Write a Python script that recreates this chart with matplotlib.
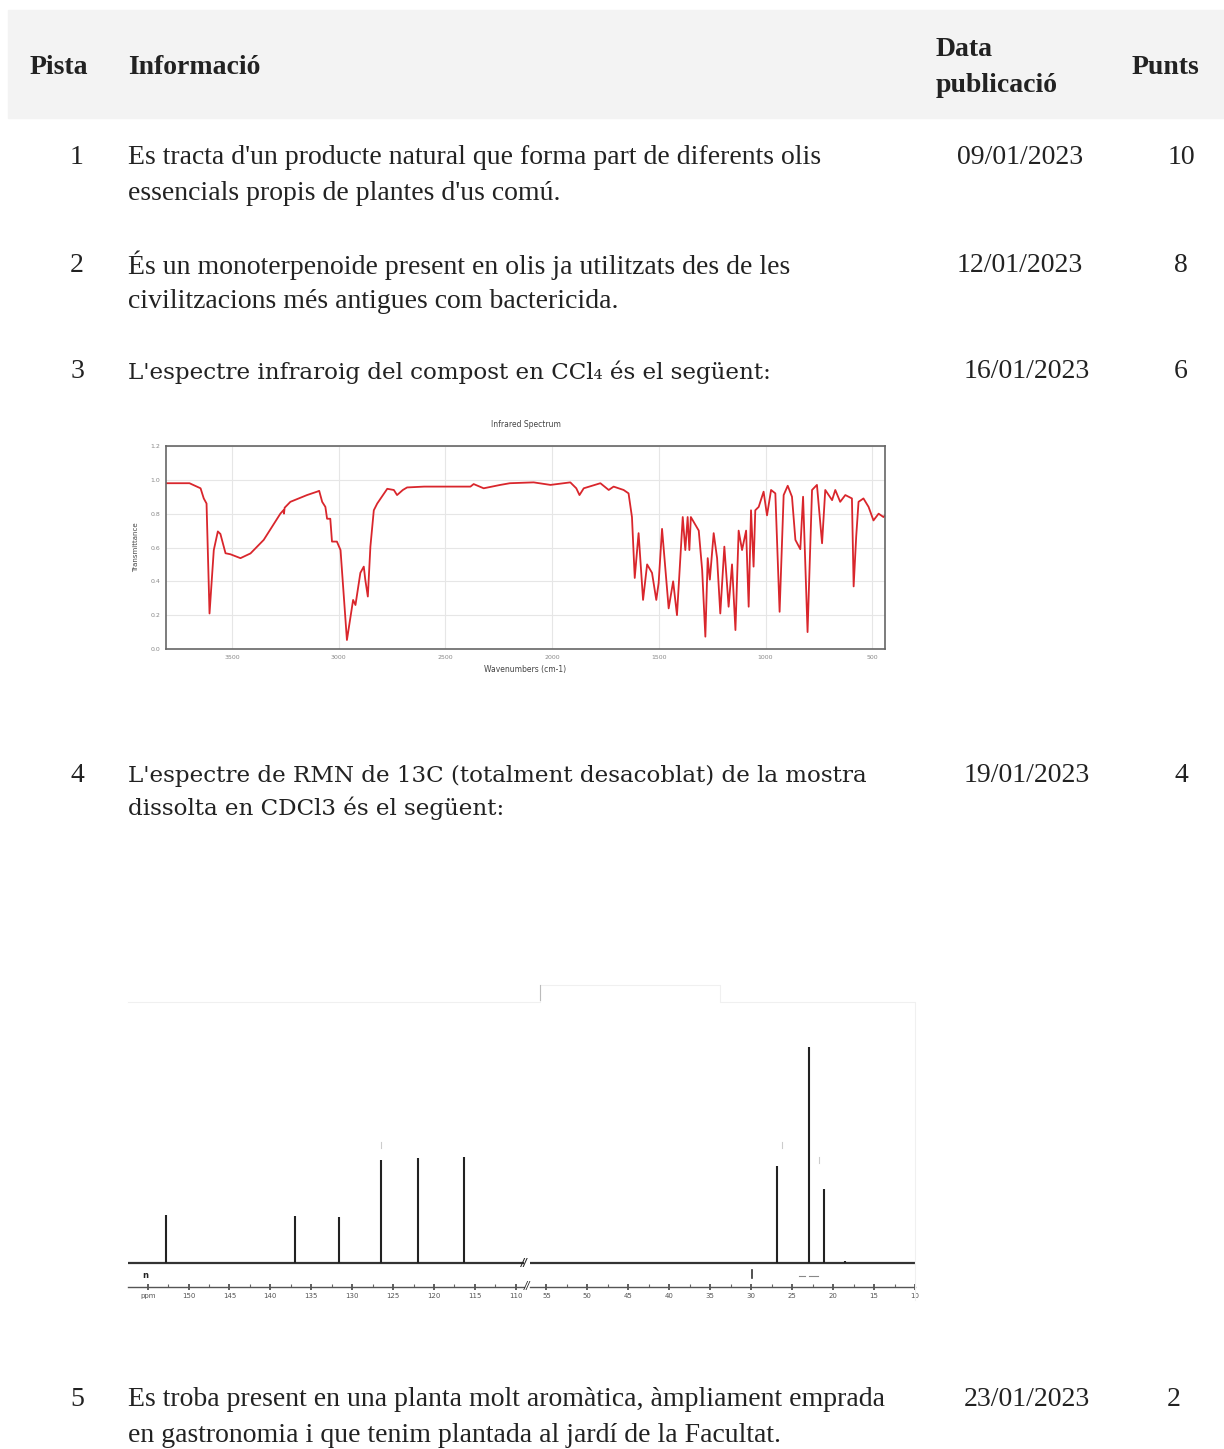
import matplotlib
matplotlib.use("Agg")
import matplotlib.pyplot as plt
from matplotlib.lines import Line2D

W, H = 1224, 1449

# table content
header = ["Pista", "Informació", "Data\npublicació", "Punts"]
pistes = ["1", "2", "3", "4", "5"]
info = [
    ["Es tracta d'un producte natural que forma part de diferents olis",
     "essencials propis de plantes d'us comú."],
    ["És un monoterpenoide present en olis ja utilitzats des de les",
     "civilitzacions més antigues com bactericida."],
    ["L'espectre infraroig del compost en CCl₄ és el següent:"],
    ["L'espectre de RMN de 13C (totalment desacoblat) de la mostra",
     "dissolta en CDCl3 és el següent:"],
    ["Es troba present en una planta molt aromàtica, àmpliament emprada",
     "en gastronomia i que tenim plantada al jardí de la Facultat."],
]
dates = ["09/01/2023", "12/01/2023", "16/01/2023", "19/01/2023", "23/01/2023"]
punts = ["10", "8", "6", "4", "2"]

# IR spectrum (wavenumber cm-1, transmittance)
ir_wn = [3810, 3700, 3648, 3633, 3620, 3606, 3586, 3567, 3555, 3531, 3508, 3461,
         3414, 3352, 3274, 3260, 3257, 3254, 3227, 3149, 3102, 3092, 3078, 3063,
         3055, 3040, 3032, 3009, 2992, 2962, 2933, 2922, 2899, 2883, 2876, 2864,
         2852, 2836, 2820, 2773, 2742, 2727, 2700, 2680, 2600, 2383, 2368, 2321,
         2243, 2198, 2087, 2008, 1915, 1887, 1872, 1852, 1774, 1735, 1712, 1665,
         1642, 1626, 1613, 1595, 1574, 1555, 1532, 1512, 1501, 1485, 1454, 1433,
         1415, 1388, 1376, 1365, 1357, 1350, 1313, 1297, 1282, 1271, 1261, 1243,
         1227, 1212, 1193, 1173, 1157, 1141, 1126, 1110, 1091, 1079, 1068, 1056,
         1048, 1032, 1009, 993, 974, 954, 934, 915, 896, 876, 860, 837, 824, 803,
         782, 759, 735, 720, 688, 673, 650, 626, 595, 587, 575, 564, 541, 517,
         494, 470, 447, 440]
ir_t = [0.98, 0.98, 0.95, 0.89, 0.86, 0.21, 0.585, 0.695, 0.68, 0.566, 0.56, 0.537,
        0.565, 0.645, 0.80, 0.82, 0.80, 0.835, 0.87, 0.91, 0.93, 0.935, 0.87, 0.84,
        0.77, 0.77, 0.635, 0.635, 0.585, 0.053, 0.29, 0.26, 0.45, 0.487, 0.41, 0.31,
        0.605, 0.82, 0.86, 0.947, 0.94, 0.91, 0.94, 0.955, 0.96, 0.96, 0.975, 0.95,
        0.97, 0.98, 0.985, 0.97, 0.985, 0.95, 0.91, 0.95, 0.98, 0.94, 0.96, 0.94,
        0.92, 0.78, 0.42, 0.685, 0.29, 0.50, 0.45, 0.29, 0.39, 0.71, 0.24, 0.40,
        0.20, 0.78, 0.585, 0.78, 0.585, 0.78, 0.70, 0.467, 0.073, 0.537, 0.41, 0.685,
        0.537, 0.21, 0.605, 0.25, 0.50, 0.112, 0.70, 0.585, 0.70, 0.25, 0.82, 0.487,
        0.82, 0.84, 0.93, 0.79, 0.94, 0.92, 0.22, 0.91, 0.965, 0.90, 0.645, 0.59,
        0.90, 0.10, 0.94, 0.97, 0.625, 0.94, 0.88, 0.94, 0.87, 0.91, 0.89, 0.37,
        0.665, 0.87, 0.89, 0.84, 0.76, 0.80, 0.78, 0.79]
ir_ticks = [3500, 3000, 2500, 2000, 1500, 1000, 500]

# 13C NMR peaks (ppm, relative height)
nmr_ppm = [152.8, 137.0, 131.6, 126.5, 122.0, 116.3, 26.9, 22.9, 21.1, 18.6]
nmr_h = [48, 47, 46, 103, 105, 106, 97, 216, 74, 2]


def fx(x):
    return x / W


def fy(y):
    return 1 - y / H


def put(x, y, s, **kw):
    fig.text(fx(x), fy(y), s, va="center", color="#222222", **kw)


fig = plt.figure(figsize=(W / 100, H / 100), dpi=100)
fig.patch.set_facecolor("white")

# header band
fig.patches.append(plt.Rectangle((fx(8), fy(118)), fx(W - 8), 108 / H,
                                 transform=fig.transFigure, color="#f3f3f3", zorder=0))
hfont = dict(family="Liberation Serif", fontweight="bold", fontsize=20)
put(30, 68, header[0], **hfont)
put(128, 68, header[1], **hfont)
put(936, 49, header[2].split("\n")[0], **hfont)
put(936, 85, header[2].split("\n")[1], **hfont)
put(1132, 68, header[3], **hfont)

# rows
row_y = [157, 265, 372, 776, 1400]
gap = [36, 36, 36, 32, 36]
num_x = [77, 77, 77, 77, 77]
date_x = [1020, 1020, 1027, 1027, 1027]
pt_x = [1181, 1181, 1181, 1181, 1174]
bfont = dict(family="Liberation Serif", fontsize=20)
cfont = dict(family="DejaVu Serif", fontsize=16.6)
for i in range(5):
    y = row_y[i]
    put(num_x[i], y, pistes[i], ha="center", **bfont)
    tf = cfont if i in (2, 3) else bfont
    for j, line in enumerate(info[i]):
        put(128, y + j * gap[i], line, **tf)
    put(date_x[i], y, dates[i], ha="center", **bfont)
    put(pt_x[i], y, punts[i], ha="center", **bfont)

# IR spectrum
ax = fig.add_axes([fx(166), fy(649), (885 - 166) / W, (649 - 446) / H])
ax.plot(ir_wn, ir_t, color="#d9262c", lw=1.3)
ax.set_xlim(3810, 440)
ax.set_ylim(0, 1.2)
ax.set_xticks(ir_ticks)
ax.set_yticks([0.0, 0.2, 0.4, 0.6, 0.8, 1.0, 1.2])
ax.yaxis.set_major_formatter("{x:.1f}")
ax.grid(True, color="#e6e6e6", lw=0.8)
ax.tick_params(labelsize=4.5, labelcolor="#888888", length=0, pad=4)
for s in ax.spines.values():
    s.set_color("#666666")
    s.set_linewidth(1.2)
ax.set_title("Infrared Spectrum", fontsize=5.5, color="#444444", pad=14)
ax.set_ylabel("Transmittance", fontsize=5, color="#444444", labelpad=8)
ax.set_xlabel("Wavenumbers (cm-1)", fontsize=5.5, color="#444444", labelpad=4)

# 13C NMR spectrum, broken axis
axl = fig.add_axes([fx(128), fy(1287), (524 - 128) / W, (1287 - 1030) / H])
axr = fig.add_axes([fx(530), fy(1287), (915 - 530) / W, (1287 - 1030) / H])
for a, lim, maj in [(axl, (157.4, 109.0), [155, 150, 145, 140, 135, 130, 125, 120, 115, 110]),
                    (axr, (57.0, 10.0), [55, 50, 45, 40, 35, 30, 25, 20, 15, 10])]:
    a.set_xlim(*lim)
    a.set_ylim(-24, 233)
    a.axhline(0, color="#333333", lw=1.6)
    sel = [k for k in range(len(nmr_ppm)) if min(lim) <= nmr_ppm[k] <= max(lim)]
    a.vlines([nmr_ppm[k] for k in sel], 0, [nmr_h[k] for k in sel], color="#222222", lw=1.5)
    for s in ["top", "left", "right"]:
        a.spines[s].set_visible(False)
    a.spines["bottom"].set_color("#555555")
    a.spines["bottom"].set_linewidth(1.0)
    a.set_yticks([])
    a.set_xticks(maj)
    a.set_xticks([m - 2.5 for m in maj if m - 2.5 > min(lim)], minor=True)
    a.tick_params(axis="x", which="major", direction="inout", length=5, width=1.2,
                  labelsize=5, labelcolor="#555555", color="#444444", pad=2)
    a.tick_params(axis="x", which="minor", direction="in", length=2.5, width=0.8,
                  color="#666666")
    a.patch.set_alpha(0)
axl.set_xticklabels(["ppm"] + [str(m) for m in [150, 145, 140, 135, 130, 125, 120, 115, 110]])

# break marks and small annotations
put(524, 1263, "//", ha="center", fontsize=7, style="italic", fontweight="bold")
put(527, 1286, "//", ha="center", fontsize=7, style="italic")
put(145, 1276, "n", ha="center", fontsize=6, fontweight="bold")
fig.add_artist(Line2D([fx(751.7), fx(751.7)], [fy(1270), fy(1278)], color="#333333", lw=1.2))
fig.add_artist(Line2D([fx(799), fx(805)], [fy(1276), fy(1276)], color="#888888", lw=0.8))
fig.add_artist(Line2D([fx(809), fx(818)], [fy(1276), fy(1276)], color="#888888", lw=0.8))
for px, py in [(380.7, 1145), (781.7, 1145), (819, 1160)]:
    fig.add_artist(Line2D([fx(px), fx(px)], [fy(py - 3), fy(py + 3)], color="#cccccc", lw=0.8))

# faint frame remains around the NMR picture
fig.add_artist(Line2D([fx(128), fx(540), fx(540), fx(720), fx(720), fx(915), fx(915)],
                      [fy(1002), fy(1002), fy(985), fy(985), fy(1002), fy(1002), fy(1300)],
                      color="#f0f0f0", lw=0.8))
fig.add_artist(Line2D([fx(540), fx(540)], [fy(985), fy(1000)], color="#bbbbbb", lw=0.8))

fig.savefig("out.png", dpi=100, facecolor="white")
